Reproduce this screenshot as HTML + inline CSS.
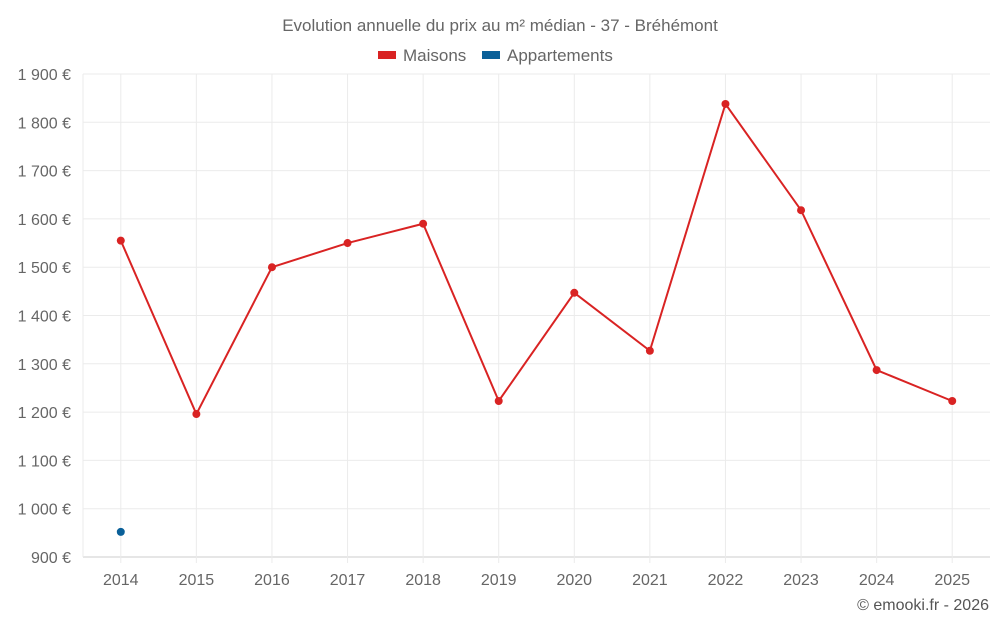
<!DOCTYPE html>
<html><head><meta charset="utf-8"><style>
body{margin:0;background:#fff;width:1000px;height:625px;overflow:hidden;font-family:"Liberation Sans",sans-serif}
</style></head><body>
<svg width="1000" height="625" id="chart">
<text x="500" y="31" text-anchor="middle" font-size="17" fill="#666">Evolution annuelle du prix au m² médian - 37 - Bréhémont</text>
<g>
<rect x="378" y="51" width="18" height="8" fill="#d92323"/>
<text x="403" y="61" font-size="17" fill="#666">Maisons</text>
<rect x="482" y="51" width="18" height="8" fill="#0a6099"/>
<text x="507" y="61" font-size="17" fill="#666">Appartements</text>
</g>
<g id="grid"></g><g id="axes"></g><g id="series"></g>
<text x="989" y="610" text-anchor="end" font-size="16" fill="#555">© emooki.fr - 2026</text>
</svg>
<script>
const years=["2014","2015","2016","2017","2018","2019","2020","2021","2022","2023","2024","2025"];
const maisons=[1555,1196,1500,1550,1590,1223,1447,1327,1838,1618,1287,1223];
const appartements=[952,null,null,null,null,null,null,null,null,null,null,null];
const yTicks=[900,1000,1100,1200,1300,1400,1500,1600,1700,1800,1900];
const NS="http://www.w3.org/2000/svg";
const L=83,R=990,T=74,B=557,yMin=900,yMax=1900;
const bw=(R-L)/years.length;
const x=i=>L+bw*(i+0.5);
const y=v=>B-(v-yMin)/(yMax-yMin)*(B-T);
function mk(tag,attrs,parent,txt){const e=document.createElementNS(NS,tag);for(const k in attrs)e.setAttribute(k,attrs[k]);if(txt!=null)e.textContent=txt;parent.appendChild(e);return e;}
const grid=document.getElementById('grid'),axes=document.getElementById('axes'),ser=document.getElementById('series');
yTicks.forEach(t=>{
 const l=mk('line',{x1:L,x2:R,y1:y(t),y2:y(t),stroke:t===yMin?'#ccc':'#ebebeb','stroke-width':1},grid);
 
 
 const s=String(t).replace(/\B(?=(\d{3})+(?!\d))/g,' ')+' €';
 const tx=mk('text',{x:71,y:y(t)+6,'text-anchor':'end','font-size':16,fill:'#666'},axes,s);
 
 
});
years.forEach((yr,i)=>{
 const l=mk('line',{x1:x(i),x2:x(i),y1:T,y2:B+6,stroke:'#ebebeb','stroke-width':1},grid);
 
 
 const tx=mk('text',{x:x(i),y:585,'text-anchor':'middle','font-size':16,fill:'#666'},axes,yr);
 
 
});
const vl=mk('line',{x1:L,x2:L,y1:T,y2:B,stroke:'#ebebeb'},grid);


const pts=maisons.map((v,i)=>v==null?null:x(i)+','+y(v)).filter(p=>p).join(' ');
const pl=mk('polyline',{points:pts,fill:'none',stroke:'#d92323','stroke-width':2},ser);


maisons.forEach((v,i)=>{if(v==null)return;
 const c=mk('circle',{cx:x(i),cy:y(v),r:4,fill:'#d92323'},ser);
 
 
});
appartements.forEach((v,i)=>{if(v==null)return;
 const c=mk('circle',{cx:x(i),cy:y(v),r:4,fill:'#0a6099'},ser);
 
 
});
</script>
</body></html>
